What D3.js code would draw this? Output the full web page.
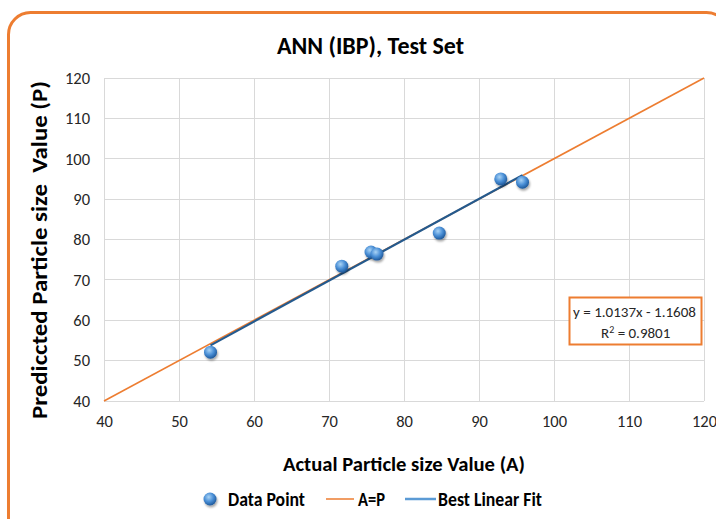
<!DOCTYPE html>
<html><head><meta charset="utf-8">
<script src="https://cdn.jsdelivr.net/npm/d3@7"></script>
<style>body{margin:0;background:#fff}svg{display:block}</style>
</head><body>
<svg id="c" width="716" height="519"></svg>
<script>
const actual = [54.2, 71.7, 75.6, 76.4, 84.7, 92.9, 95.8];
const predicted = [52.1, 73.4, 76.9, 76.4, 81.6, 95.0, 94.2];
const xTicks = [40, 50, 60, 70, 80, 90, 100, 110, 120];
const yTicks = [40, 50, 60, 70, 80, 90, 100, 110, 120];
const fitSlope = 1.0137, fitIntercept = -1.1608, r2 = 0.9801;
const title = "ANN (IBP), Test Set";
const xTitle = "Actual Particle size Value (A)";
const yTitle = "Prediccted Particle size  Value (P)";
const legendLabels = ["Data Point", "A=P", "Best Linear Fit"];

const svg = d3.select("#c");
const font = "Carlito, 'Open Sans', 'Noto Sans', sans-serif";
const defs = svg.append("defs");
const g1 = defs.append("radialGradient").attr("id","ball").attr("cx","40%").attr("cy","35%").attr("r","65%");
g1.append("stop").attr("offset","0%").attr("stop-color","#a9d3f5");
g1.append("stop").attr("offset","55%").attr("stop-color","#4a8fd6");
g1.append("stop").attr("offset","100%").attr("stop-color","#1f5a9c");
const f = defs.append("filter").attr("id","sh").attr("x","-50%").attr("y","-50%").attr("width","200%").attr("height","200%");
f.append("feDropShadow").attr("dx",1).attr("dy",2).attr("stdDeviation",1.2).attr("flood-color","#000").attr("flood-opacity",0.35);

// outer rounded border
svg.append("rect").attr("x",8.5).attr("y",12.5).attr("width",720).attr("height",560).attr("rx",22)
  .attr("fill","#fff").attr("stroke","#ed7d31").attr("stroke-width",3);

const x = d3.scaleLinear().domain([40,120]).range([104,704]);
const y = d3.scaleLinear().domain([40,120]).range([401,78]);

// gridlines
svg.append("g").selectAll("line").data(xTicks).join("line")
  .attr("x1",d=>x(d)).attr("x2",d=>x(d)).attr("y1",y(120)).attr("y2",y(40))
  .attr("stroke","#d9d9d9").attr("stroke-width",1).attr("shape-rendering","crispEdges");
svg.append("g").selectAll("line").data(yTicks).join("line")
  .attr("x1",x(40)).attr("x2",x(120)).attr("y1",d=>y(d)).attr("y2",d=>y(d))
  .attr("stroke","#d9d9d9").attr("stroke-width",1).attr("shape-rendering","crispEdges");

// axes labels via d3 axes
const xa = svg.append("g").attr("transform",`translate(0,${y(40)})`)
  .call(d3.axisBottom(x).tickValues(xTicks).tickSize(0).tickPadding(14));
const ya = svg.append("g").attr("transform",`translate(${x(40)},0)`)
  .call(d3.axisLeft(y).tickValues(yTicks).tickSize(0).tickPadding(14));
[xa,ya].forEach(a=>{a.select(".domain").remove();
  a.selectAll("text").attr("font-family",font).attr("font-size",16.5).attr("fill","#262626");});

// A=P line
svg.append("line").attr("x1",x(40)).attr("y1",y(40)).attr("x2",x(120)).attr("y2",y(120))
  .attr("stroke","#ed7d31").attr("stroke-width",1.6);
// fit line
const fx0 = d3.min(actual), fx1 = d3.max(actual);
svg.append("line").attr("x1",x(fx0)).attr("y1",y(fitSlope*fx0+fitIntercept))
  .attr("x2",x(fx1)).attr("y2",y(fitSlope*fx1+fitIntercept))
  .attr("stroke","#245a8e").attr("stroke-width",2.2);

// points
svg.append("g").selectAll("circle").data(actual.map((a,i)=>[a,predicted[i]])).join("circle")
  .attr("cx",d=>x(d[0])).attr("cy",d=>y(d[1])).attr("r",6.5)
  .attr("fill","url(#ball)").attr("filter","url(#sh)");

function bt(sel, size, len){
  return sel.attr("font-family",font).attr("font-weight","bold").attr("font-size",size)
    .attr("fill","#000").attr("textLength",len).attr("lengthAdjust","spacingAndGlyphs")
    .style("white-space","pre");
}
// titles
bt(svg.append("text").attr("x",277).attr("y",54), 24, 187).text(title);
bt(svg.append("text").attr("x",283).attr("y",471), 21, 242).text(xTitle);
bt(svg.append("text").attr("transform","translate(47,419) rotate(-90)"), 21.5, 338).text(yTitle);

// equation box
svg.append("rect").attr("x",569.5).attr("y",297.5).attr("width",132).attr("height",47)
  .attr("fill","#fff").attr("stroke","#ed7d31").attr("stroke-width",2);
svg.append("text").attr("x",573).attr("y",317)
  .attr("font-family",font).attr("font-size",15).attr("fill","#262626")
  .attr("textLength",123).attr("lengthAdjust","spacingAndGlyphs")
  .text(`y = ${fitSlope}x - ${fitIntercept.toString().replace("-","")}`);
const rt = svg.append("text").attr("x",601).attr("y",338)
  .attr("font-family",font).attr("font-size",15).attr("fill","#262626");
rt.append("tspan").text("R");
rt.append("tspan").attr("dy",-5).attr("font-size",10).text("2");
rt.append("tspan").attr("dy",5).text(` = ${r2}`);

// legend
const ly = 499;
svg.append("circle").attr("cx",210).attr("cy",ly).attr("r",6.5).attr("fill","url(#ball)").attr("filter","url(#sh)");
bt(svg.append("text").attr("x",228).attr("y",ly+7), 19.5, 77).text(legendLabels[0]);
svg.append("line").attr("x1",326).attr("x2",354).attr("y1",ly).attr("y2",ly).attr("stroke","#ed7d31").attr("stroke-width",1.5);
bt(svg.append("text").attr("x",358).attr("y",ly+7), 19.5, 27).text(legendLabels[1]);
svg.append("line").attr("x1",405).attr("x2",436).attr("y1",ly).attr("y2",ly).attr("stroke","#5b9bd5").attr("stroke-width",2.5);
bt(svg.append("text").attr("x",438).attr("y",ly+7), 19.5, 104).text(legendLabels[2]);
</script>
</body></html>
